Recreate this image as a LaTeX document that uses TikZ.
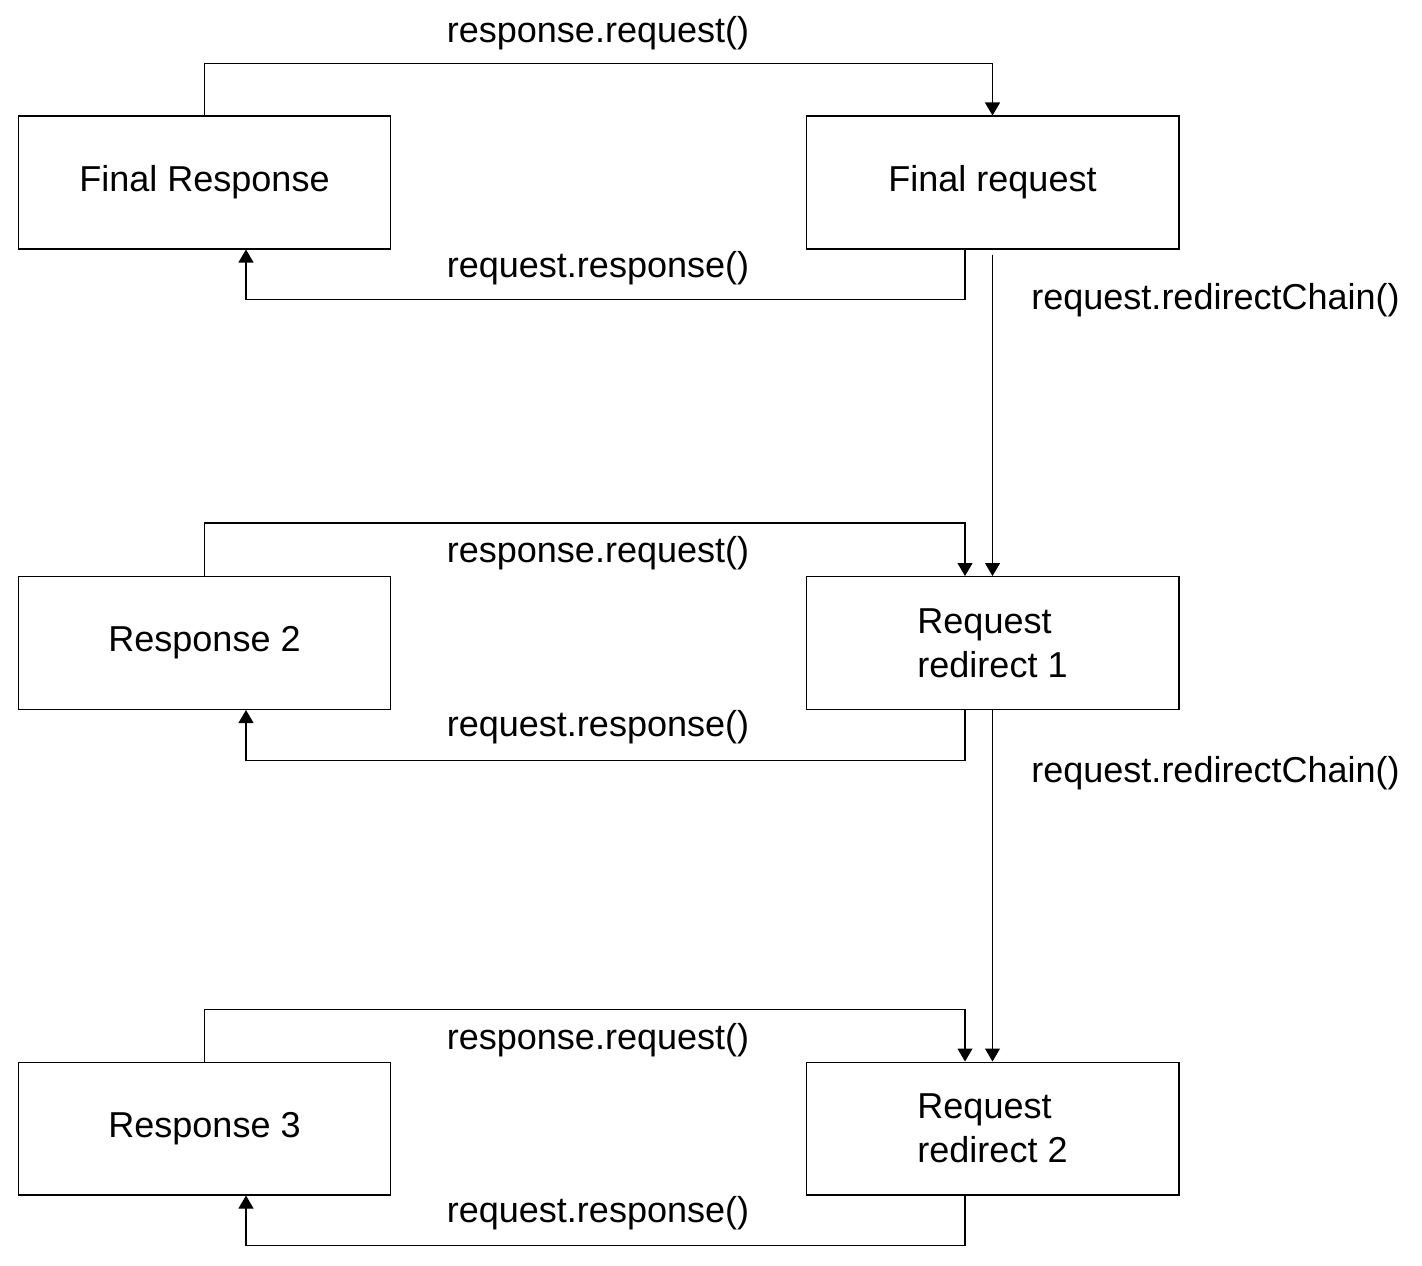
\documentclass[tikz,border=0pt]{standalone}
\usepackage{fontspec}
\setmainfont{Liberation Sans}
\usetikzlibrary{arrows.meta,positioning,calc}
\tikzset{
  box/.style={draw=black, fill=white, line width=0.6pt, minimum width=7.46cm,
              minimum height=2.66cm, align=left, inner sep=0pt,
              font=\fontsize{20.5}{25}\selectfont},
  link/.style={-{Triangle[length=0.26cm,width=0.3cm]}, line width=0.6pt, draw=black},
  lbl/.style={font=\fontsize{20.5}{25}\selectfont, inner sep=0pt}
}
\begin{document}
\begin{tikzpicture}[x=0.02cm,y=-0.02cm]
  \useasboundingbox (0,0) rectangle (1422,1265);
  % boxes
  \node[box] (fresp)  at (204.5,182.5)  {Final Response};
  \node[box] (freq)   at (992.5,182.5)  {Final request};
  \node[box] (resp2)  at (204.5,643)    {Response 2};
  \node[box] (redir1) at (992.5,643)    {Request\\redirect 1};
  \node[box] (resp3)  at (204.5,1128.5) {Response 3};
  \node[box] (redir2) at (992.5,1128.5) {Request\\redirect 2};
  % top pair
  \draw[link] (fresp.north) -- ++(0,-52) -| (freq.north);
  \draw[link] ($(freq.south)+(-27.5,0)$) -- ++(0,50) -| ($(fresp.south)+(41.5,0)$);
  \node[lbl] (rr1) at (598,33)  {response.request()};
  \node[lbl] (qr1) at (598,268) {request.response()};
  % chain 1
  \draw[link] ($(freq.south)+(0,5)$) -- (redir1.north);
  \node[lbl, anchor=west] (rc1) at (1031,300) {request.redirectChain()};
  % middle pair
  \draw[link] (resp2.north) -- ++(0,-53) -| ($(redir1.north)+(-27.5,0)$);
  \draw[link] ($(redir1.south)+(-27.5,0)$) -- ++(0,50) -| ($(resp2.south)+(41.5,0)$);
  \node[lbl] (rr2) at (598,553) {response.request()};
  \node[lbl] (qr2) at (598,727) {request.response()};
  % chain 2
  \draw[link] (redir1.south) -- (redir2.north);
  \node[lbl, anchor=west] (rc2) at (1031,773) {request.redirectChain()};
  % bottom pair
  \draw[link] (resp3.north) -- ++(0,-52) -| ($(redir2.north)+(-27.5,0)$);
  \draw[link] ($(redir2.south)+(-27.5,0)$) -- ++(0,50) -| ($(resp3.south)+(41.5,0)$);
  \node[lbl] (rr3) at (598,1040) {response.request()};
  \node[lbl] (qr3) at (598,1213) {request.response()};
\end{tikzpicture}
\end{document}
